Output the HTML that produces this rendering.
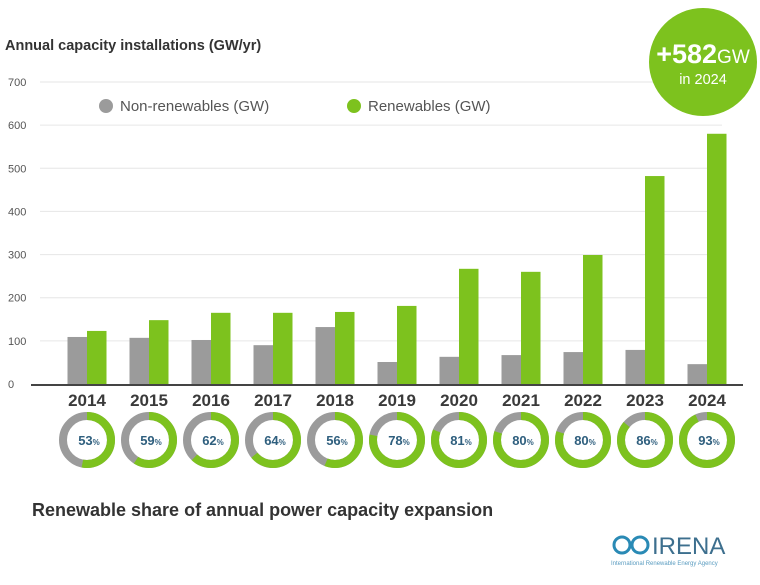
<!DOCTYPE html>
<html><head><meta charset="utf-8"><style>
html,body{margin:0;padding:0;background:#fff;}
body{width:760px;height:580px;overflow:hidden;font-family:"Liberation Sans",sans-serif;}
</style></head><body>
<svg id="chart" width="760" height="580" xmlns="http://www.w3.org/2000/svg">
<text x="5" y="50" font-size="14.5" font-weight="bold" fill="#333">Annual capacity installations (GW/yr)</text>
<g id="grid"></g>
<g id="bars"></g>
<g id="donuts"></g>
<g>
<circle cx="106" cy="106" r="7" fill="#9b9b9b"/>
<text x="120" y="111" font-size="15" fill="#555">Non-renewables (GW)</text>
<circle cx="354" cy="106" r="7" fill="#7dc21e"/>
<text x="368" y="111" font-size="15" fill="#555">Renewables (GW)</text>
</g>
<g>
<circle cx="703" cy="62" r="54" fill="#7dc21e"/>
<text x="703" y="63" text-anchor="middle" fill="#fff" font-weight="bold" font-size="27">+582<tspan font-weight="normal" font-size="19">GW</tspan></text>
<text x="703" y="84" text-anchor="middle" fill="#fff" font-size="14.5">in 2024</text>
</g>
<text x="32" y="516" font-size="18" font-weight="bold" fill="#333">Renewable share of annual power capacity expansion</text>
<g>
<circle cx="622" cy="545" r="8" fill="none" stroke="#2a8ab5" stroke-width="3"/>
<circle cx="640" cy="545" r="8" fill="none" stroke="#2a8ab5" stroke-width="3"/>
<text x="652" y="554" font-size="24" fill="#3d6f8e">IRENA</text>
<text x="611" y="565" font-size="6" fill="#5a9cc0">International Renewable Energy Agency</text>
</g>
</svg>
<script>
const years=["2014","2015","2016","2017","2018","2019","2020","2021","2022","2023","2024"];
const nonRenewables=[109,107,102,90,132,51,63,67,74,79,46];
const renewables=[123,148,165,165,167,181,267,260,299,482,580];
const shares=[53,59,62,64,56,78,81,80,80,86,93];
const yTicks=[0,100,200,300,400,500,600,700];
const NS="http://www.w3.org/2000/svg";
const y0=384,pxPer=302/700;
function yScale(v){return y0-v*pxPer;}
function xScale(i){return 87+i*62;}
function mk(tag,attrs,parent){const e=document.createElementNS(NS,tag);for(const k in attrs)e.setAttribute(k,attrs[k]);parent.appendChild(e);return e;}
const grid=document.getElementById('grid'),bars=document.getElementById('bars'),donuts=document.getElementById('donuts');
yTicks.forEach(t=>{
 const y=yScale(t);
 if(t>0){const l=mk('line',{x1:40,x2:722,y1:y,y2:y,stroke:'#e6e6e6','stroke-width':1},grid);
 
 }
 const tx=mk('text',{x:8,y:y+4,'font-size':11,fill:'#555'},grid);tx.textContent=t;
 
 
});
const ax=mk('line',{x1:31,x2:743,y1:y0+1,y2:y0+1,stroke:'#444','stroke-width':2},grid);


const bw=19.5;
years.forEach((yr,i)=>{
 const cx=xScale(i);
 const g=mk('rect',{x:cx-bw,y:yScale(nonRenewables[i]),width:bw,height:nonRenewables[i]*pxPer,fill:'#9b9b9b'},bars);
 
 
 const r=mk('rect',{x:cx,y:yScale(renewables[i]),width:bw,height:renewables[i]*pxPer,fill:'#7dc21e'},bars);
 
 
 const t=mk('text',{x:cx,y:406,'text-anchor':'middle','font-size':17,'font-weight':'bold',fill:'#3a3a3a'},bars);t.textContent=yr;
 
 
 const R=24,C=2*Math.PI*R,cy=440;
 const bg=mk('circle',{cx:cx,cy:cy,r:R,fill:'none',stroke:'#9b9b9b','stroke-width':8},donuts);
 
 
 const arc=mk('circle',{cx:cx,cy:cy,r:R,fill:'none',stroke:'#7dc21e','stroke-width':8,'stroke-dasharray':(C*shares[i]/100)+' '+C,transform:'rotate(-90 '+cx+' '+cy+')'},donuts);
 
 
 const lt=mk('text',{x:cx+2,y:cy+5,'text-anchor':'middle','font-size':13,'font-weight':'bold',fill:'#2f5f7e'},donuts);
 lt.innerHTML=shares[i]+'<tspan font-size="8">%</tspan>';
 
 
});
</script>
</body></html>
